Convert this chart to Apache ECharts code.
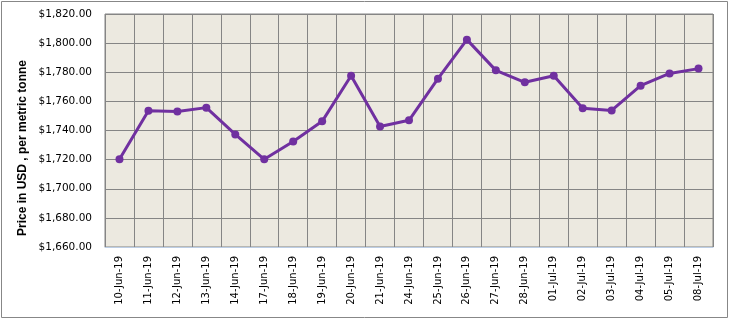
<!DOCTYPE html>
<html>
<head>
<meta charset="utf-8">
<script src="https://cdn.jsdelivr.net/npm/echarts@6/dist/echarts.min.js"></script>
<style>
  * { margin: 0; padding: 0; }
  body { background: #fff; }
  #main { width: 729px; height: 319px; }
</style>
</head>
<body>
<div id="main"></div>
<script>
// dates on the x axis
var dates = ["10-Jun-19", "11-Jun-19", "12-Jun-19", "13-Jun-19", "14-Jun-19", "17-Jun-19", "18-Jun-19",
  "19-Jun-19", "20-Jun-19", "21-Jun-19", "24-Jun-19", "25-Jun-19", "26-Jun-19", "27-Jun-19",
  "28-Jun-19", "01-Jul-19", "02-Jul-19", "03-Jul-19", "04-Jul-19", "05-Jul-19", "08-Jul-19"];
// price, USD per metric tonne
var prices = [1720.2, 1753.6, 1753.0, 1755.7, 1737.3, 1720.2, 1732.5,
  1746.3, 1777.6, 1742.8, 1747.0, 1775.6, 1802.4, 1781.3,
  1773.1, 1777.6, 1755.2, 1753.8, 1770.8, 1779.2, 1782.5];
var yMin = 1660, yMax = 1820, yStep = 20;
var yTitle = "Price in USD , per metric tonne";

function money(v) {
  var s = v.toFixed(2).split(".");
  s[0] = s[0].replace(/\B(?=(\d{3})+(?!\d))/g, ",");
  return "$" + s.join(".");
}

var chart = echarts.init(document.getElementById("main"));
chart.setOption({
  animation: false,
  grid: {
    left: 105, top: 14, right: 16, bottom: 72,
    show: true,
    backgroundColor: "#ECE9E0",
    borderColor: "#858585",
    borderWidth: 1
  },
  graphic: [
    {
      type: "rect",
      shape: { x: 1.5, y: 1.5, width: 726, height: 316 },
      style: { fill: null, stroke: "#878787", lineWidth: 1 },
      silent: true
    },
    {
      type: "text",
      x: 23, y: 148,
      rotation: Math.PI / 2,
      style: {
        text: yTitle,
        font: "bold 12px 'Liberation Sans'",
        fill: "#000",
        align: "center",
        verticalAlign: "middle"
      }
    }
  ],
  xAxis: {
    type: "category",
    data: dates,
    boundaryGap: true,
    axisLine: { lineStyle: { color: "#BCCDE4", width: 1 } },
    axisTick: { show: false },
    splitLine: { show: true, lineStyle: { color: "#858585", width: 1 } },
    axisLabel: {
      rotate: 90,
      interval: 0,
      margin: 9,
      color: "#000",
      fontFamily: "DejaVu Sans",
      fontSize: 10
    }
  },
  yAxis: {
    type: "value",
    min: yMin,
    max: yMax,
    interval: yStep,
    axisLine: { show: false },
    axisTick: { show: false },
    splitLine: { lineStyle: { color: "#858585", width: 1 } },
    axisLabel: {
      margin: 13,
      color: "#000",
      fontFamily: "DejaVu Sans",
      fontSize: 10.5,
      formatter: money
    }
  },
  series: [
    {
      type: "line",
      data: prices,
      symbol: "circle",
      symbolSize: 8,
      lineStyle: { color: "#7030A0", width: 3 },
      itemStyle: { color: "#7030A0" }
    }
  ]
});
</script>
</body>
</html>
